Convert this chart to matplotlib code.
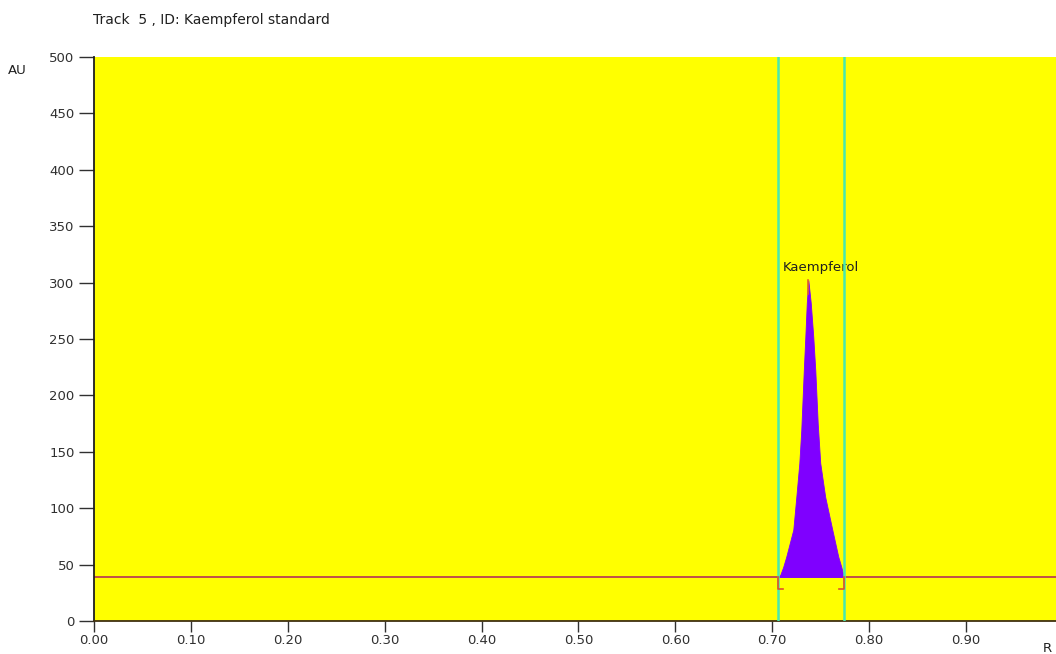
import matplotlib
matplotlib.use("Agg")
import matplotlib.pyplot as plt
import numpy as np

plt.rcParams['font.family'] = ['DejaVu Sans']

# Data
peak_rf = [0.7062, 0.7083, 0.7113, 0.7144, 0.7217, 0.7248, 0.7279, 0.7299, 0.7325, 0.7341, 0.7356, 0.7372,
           0.7397, 0.7423, 0.7444, 0.7469, 0.7495, 0.7546, 0.7619, 0.7681, 0.7712, 0.7733, 0.7743]
peak_au = [39, 41, 48, 57, 81, 110, 140, 169, 222, 252, 282, 302,
           282, 252, 222, 175, 140, 110, 81, 57, 48, 41, 39]
baseline_au = 39
peak_start, peak_end = 0.7062, 0.7743
bracket_low = 28
window_lines = [0.706, 0.7745]
peak_label = "Kaempferol"
title = "Track  5 , ID: Kaempferol standard"
xticks = [0.0, 0.1, 0.2, 0.3, 0.4, 0.5, 0.6, 0.7, 0.8, 0.9]
yticks = list(range(0, 501, 50))

fig = plt.figure(figsize=(10.56, 6.54), dpi=100)
ax = fig.add_axes([94/1056, 33/654, 1 - 94/1056, (621-57)/654])
ax.set_facecolor('#FFFF00')
ax.set_xlim(0, 0.9928)
ax.set_ylim(0, 500)

# baseline
ax.axhline(baseline_au, color='#C0504A', lw=1.4, zorder=2)
# peak fill
ax.fill_between(peak_rf, baseline_au, peak_au, color='#7F00FF', zorder=3, lw=0.6, edgecolor='#7F00FF')
top_i = peak_au.index(max(peak_au))
ax.plot([peak_rf[top_i], peak_rf[top_i]], [peak_au[top_i] - 12, peak_au[top_i]], color='#E0602A', lw=1.2, zorder=4)
# window lines
for x in window_lines:
    ax.axvline(x, color='#48E8B0', lw=1.8, zorder=5)
# brackets
for x, d in [(peak_start, 1), (peak_end, -1)]:
    ax.plot([x, x, x + d*0.005], [baseline_au, bracket_low, bracket_low], color='#E0502A', lw=1.2, zorder=6)

ax.text(0.711, 308, peak_label, ha='left', va='bottom', fontsize=9.5, color='#202020')

for s in ['top', 'right']:
    ax.spines[s].set_visible(False)
ax.spines['left'].set_color('#202020')
ax.spines['bottom'].set_color('#403010')
ax.spines['left'].set_linewidth(1.3)
ax.spines['bottom'].set_linewidth(1.3)

ax.set_xticks(xticks)
ax.set_xticklabels([f"{v:.2f}" for v in xticks])
ax.set_yticks(yticks)
ax.set_yticklabels([str(v) for v in yticks])
ax.tick_params(axis='both', direction='out', width=1, labelsize=9.5, colors='#303030')
ax.tick_params(axis='y', length=11, pad=3)
ax.tick_params(axis='x', length=8, pad=1)

fig.text(93/1056, 1 - 20/654, title, fontsize=10, va='center', ha='left', color='#202020')
fig.text(8/1056, 1 - 71/654, "AU", fontsize=9.5, va='center', ha='left', color='#202020')
fig.text(1043/1056, 1 - 648/654, "R", fontsize=9.5, va='center', ha='left', color='#202020')

fig.savefig('out.png', dpi=100, facecolor='white')
